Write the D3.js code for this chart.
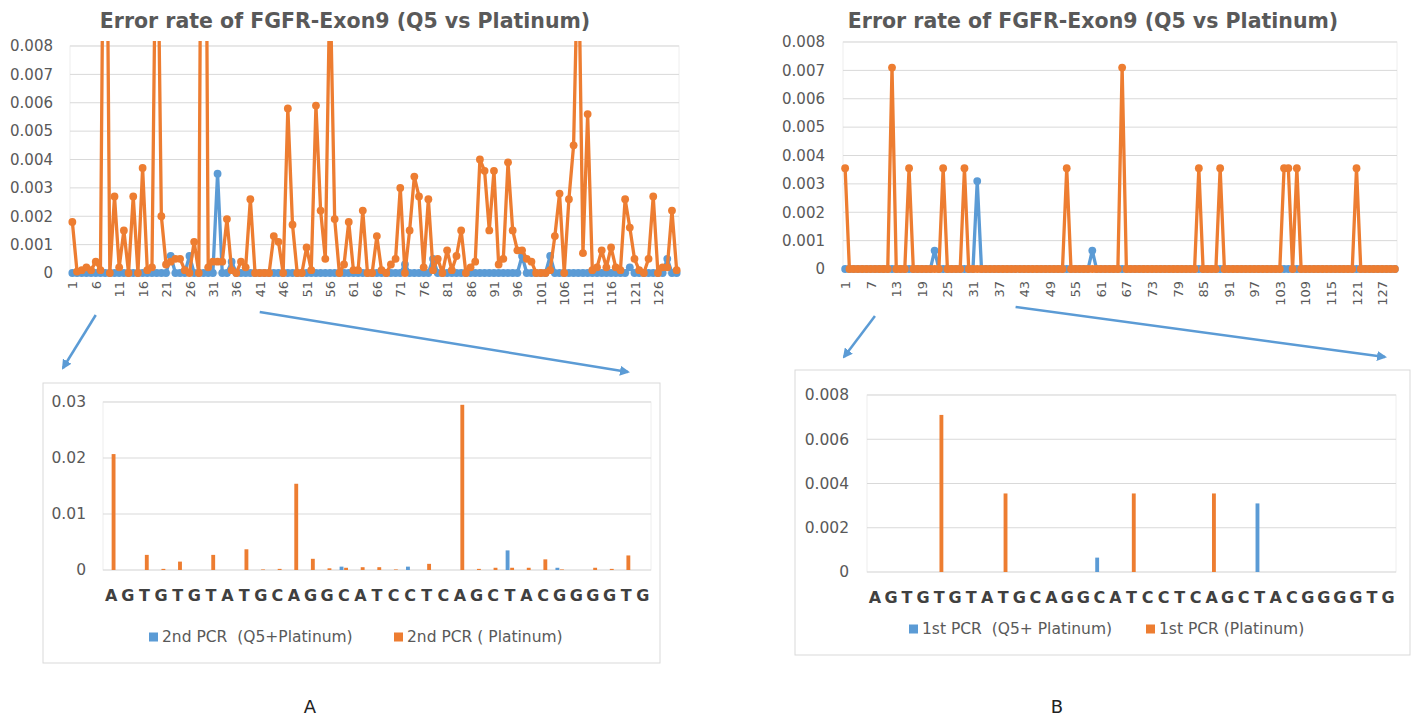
<!DOCTYPE html>
<html>
<head>
<meta charset="utf-8">
<script src="https://cdn.jsdelivr.net/npm/d3@7"></script>
<style>
  body { margin: 0; background: #fff; }
  svg text { font-family: "DejaVu Sans", sans-serif; }
</style>
</head>
<body>
<svg id="fig" width="1416" height="717"></svg>
<script>
// ---- data ----
// error rate per position of FGFR exon 9 (positions 1..130)
var platinumA = [
  0.0018, 0.00005, 0.0001, 0.0002, 0.0001, 0.0004, 0.0001, 0.0207, 0, 0.0027,
  0.0002, 0.0015, 0, 0.0027, 0, 0.0037, 0.0001, 0.0002, 0.0154, 0.0020,
  0.0003, 0.0004, 0.0005, 0.0005, 0.0001, 0, 0.0011, 0, 0.0295, 0.0002,
  0.0004, 0.0004, 0.0004, 0.0019, 0.0001, 0, 0.0004, 0.0002, 0.0026, 0,
  0, 0, 0, 0.0013, 0.0011, 0, 0.0058, 0.0017, 0, 0,
  0.0009, 0.0001, 0.0059, 0.0022, 0.0005, 0.0105, 0.0019, 0, 0.0003, 0.0018,
  0.0001, 0.0001, 0.0022, 0, 0, 0.0013, 0.0001, 0, 0.0003, 0.0005,
  0.0030, 0, 0.0015, 0.0034, 0.0027, 0.0002, 0.0026, 0.0001, 0.0005, 0,
  0.0008, 0.0001, 0.0006, 0.0015, 0, 0.0002, 0.0004, 0.0040, 0.0036, 0.0015,
  0.0036, 0.0003, 0.0005, 0.0039, 0.0015, 0.0008, 0.0008, 0.0005, 0.0004, 0,
  0, 0, 0.0001, 0.0013, 0.0028, 0, 0.0026, 0.0045, 0.0120, 0.0007,
  0.0056, 0.0001, 0.0002, 0.0008, 0.0002, 0.0009, 0.0002, 0.0001, 0.0026, 0.0016,
  0.0005, 0.0001, 0, 0.0005, 0.0027, 0, 0.0002, 0.0002, 0.0022, 0.0001
];
var q5A = [
  0, 0, 0, 0, 0, 0, 0, 0, 0, 0,
  0, 0, 0, 0, 0, 0, 0, 0, 0, 0,
  0, 0.0006, 0, 0, 0, 0.0006, 0, 0, 0, 0,
  0, 0.0035, 0, 0, 0.0004, 0, 0, 0, 0, 0,
  0, 0, 0, 0, 0, 0, 0, 0, 0, 0,
  0, 0, 0, 0, 0, 0, 0, 0, 0, 0,
  0, 0, 0, 0, 0, 0, 0, 0, 0, 0,
  0, 0.0003, 0, 0, 0, 0, 0, 0.0005, 0, 0,
  0, 0, 0, 0, 0, 0, 0, 0, 0, 0,
  0, 0, 0, 0, 0, 0, 0.0006, 0, 0, 0,
  0, 0, 0.0006, 0, 0, 0, 0, 0, 0, 0,
  0, 0, 0, 0, 0, 0, 0, 0, 0, 0.0002,
  0, 0, 0, 0, 0, 0, 0, 0.0005, 0, 0
];
var platinumB = [
  0.00355, 0, 0, 0, 0, 0, 0, 0, 0, 0,
  0, 0.0071, 0, 0, 0, 0.00355, 0, 0, 0, 0,
  0, 0, 0, 0.00355, 0, 0, 0, 0, 0.00355, 0,
  0, 0, 0, 0, 0, 0, 0, 0, 0, 0,
  0, 0, 0, 0, 0, 0, 0, 0, 0, 0,
  0, 0, 0.00355, 0, 0, 0, 0, 0, 0, 0,
  0, 0, 0, 0, 0, 0.0071, 0, 0, 0, 0,
  0, 0, 0, 0, 0, 0, 0, 0, 0, 0,
  0, 0, 0, 0.00355, 0, 0, 0, 0, 0.00355, 0,
  0, 0, 0, 0, 0, 0, 0, 0, 0, 0,
  0, 0, 0, 0.00355, 0.00355, 0, 0.00355, 0, 0, 0,
  0, 0, 0, 0, 0, 0, 0, 0, 0, 0,
  0.00355, 0, 0, 0, 0, 0, 0, 0, 0, 0
];
var q5B = [
  0, 0, 0, 0, 0, 0, 0, 0, 0, 0,
  0, 0, 0, 0, 0, 0, 0, 0, 0, 0,
  0, 0.00065, 0, 0, 0, 0, 0, 0, 0, 0,
  0, 0.0031, 0, 0, 0, 0, 0, 0, 0, 0,
  0, 0, 0, 0, 0, 0, 0, 0, 0, 0,
  0, 0, 0, 0, 0, 0, 0, 0, 0.00065, 0,
  0, 0, 0, 0, 0, 0, 0, 0, 0, 0,
  0, 0, 0, 0, 0, 0, 0, 0, 0, 0,
  0, 0, 0, 0, 0, 0, 0, 0, 0, 0,
  0, 0, 0, 0, 0, 0, 0, 0, 0, 0,
  0, 0, 0, 0, 0, 0, 0, 0, 0, 0,
  0, 0, 0, 0, 0, 0, 0, 0, 0, 0,
  0, 0, 0, 0, 0, 0, 0, 0, 0, 0
];

// the zoomed bar charts show positions 8..40 of the line charts
var sequence = ['A','G','T','G','T','G','T','A','T','G','C','A','G','G','C','A','T',
                'C','C','T','C','A','G','C','T','A','C','G','G','G','G','T','G'];
var zoomStart = 8;

var xTicksA = [1, 6, 11, 16, 21, 26, 31, 36, 41, 46, 51, 56, 61, 66, 71, 76, 81, 86, 91, 96,
               101, 106, 111, 116, 121, 126];
var xTicksB = [1, 7, 13, 19, 25, 31, 37, 43, 49, 55, 61, 67, 73, 79, 85, 91, 97, 103, 109, 115,
               121, 127];
var lineYTicks = [0, 0.001, 0.002, 0.003, 0.004, 0.005, 0.006, 0.007, 0.008];
var barYTicksA = [0, 0.01, 0.02, 0.03];
var barYTicksB = [0, 0.002, 0.004, 0.006, 0.008];

var chartTitle = 'Error rate of FGFR-Exon9 (Q5 vs Platinum)';

// ---- style ----
var orange = '#ED7D31';
var blue = '#5B9BD5';
var gridColor = '#D9D9D9';
var textColor = '#595959';

var svg = d3.select('#fig');
var positions = platinumA.map(function(d, i) { return i + 1; });

var defs = svg.append('defs');
defs.append('marker')
  .attr('id', 'arrowhead')
  .attr('viewBox', '0 0 10 10')
  .attr('refX', 8).attr('refY', 5)
  .attr('markerWidth', 4).attr('markerHeight', 4)
  .attr('orient', 'auto')
  .append('path')
  .attr('d', 'M0,0 L10,5 L0,10 z')
  .attr('fill', blue);

function styleAxis(g, size, weight, color) {
  g.attr('font-family', '"DejaVu Sans", sans-serif')
   .attr('font-size', size)
   .attr('font-weight', weight || 'normal');
  g.select('.domain').remove();
  g.selectAll('text').attr('fill', color || textColor);
}

function drawLineChart(o) {
  var g = svg.append('g');
  var x = d3.scalePoint().domain(positions).range([o.left, o.right]).padding(0.5);
  var y = d3.scaleLinear().domain([0, 0.008]).range([o.bottom, o.top]);

  g.append('text')
    .attr('x', o.titleX).attr('y', 28)
    .attr('text-anchor', 'middle')
    .attr('font-weight', 'bold')
    .attr('font-size', 20.5)
    .attr('fill', textColor)
    .text(chartTitle);

  g.append('rect')
    .attr('x', o.left).attr('y', o.top)
    .attr('width', o.right - o.left).attr('height', o.bottom - o.top)
    .attr('fill', 'none').attr('stroke', '#EEEEEE');

  g.selectAll('.grid').data(lineYTicks).enter().append('line')
    .attr('x1', o.left).attr('x2', o.right)
    .attr('y1', function(d) { return y(d); }).attr('y2', function(d) { return y(d); })
    .attr('stroke', gridColor);

  var ya = g.append('g')
    .attr('transform', 'translate(' + o.left + ',0)')
    .call(d3.axisLeft(y).tickValues(lineYTicks).tickSize(0).tickPadding(o.yPad)
      .tickFormat(function(d) { return d === 0 ? '0' : d3.format('.3f')(d); }));
  styleAxis(ya, 15);

  var xa = g.append('g')
    .attr('transform', 'translate(0,' + o.bottom + ')')
    .call(d3.axisBottom(x).tickValues(o.xTicks).tickSize(0));
  styleAxis(xa, 13);
  xa.selectAll('text')
    .attr('transform', 'rotate(-90)')
    .attr('x', -o.labelGap).attr('y', 0).attr('dy', '0.35em')
    .style('text-anchor', 'end');

  g.append('clipPath').attr('id', o.id + '-clip')
    .append('rect')
    .attr('x', o.left - 10).attr('y', o.top - 5)
    .attr('width', o.right - o.left + 20).attr('height', o.bottom - o.top + 20);

  var plot = g.append('g').attr('clip-path', 'url(#' + o.id + '-clip)');
  var line = d3.line()
    .x(function(d) { return x(d.pos); })
    .y(function(d) { return y(d.v); });

  o.series.forEach(function(s) {
    var pts = s.values.map(function(v, i) { return { pos: positions[i], v: v }; });
    plot.append('path').datum(pts)
      .attr('d', line)
      .attr('fill', 'none')
      .attr('stroke', s.color)
      .attr('stroke-width', 3.3)
      .attr('stroke-linejoin', 'round');
    plot.append('g').selectAll('circle').data(pts).enter().append('circle')
      .attr('cx', function(d) { return x(d.pos); })
      .attr('cy', function(d) { return y(d.v); })
      .attr('r', 3.9)
      .attr('fill', s.color);
  });

  return x;
}

function drawBarChart(o) {
  var g = svg.append('g');
  g.append('rect')
    .attr('x', o.box[0]).attr('y', o.box[1])
    .attr('width', o.box[2]).attr('height', o.box[3])
    .attr('fill', '#fff').attr('stroke', gridColor);

  var idx = sequence.map(function(d, i) { return i; });
  var x = d3.scaleBand().domain(idx).range([o.left, o.right]);
  var inner = d3.scaleBand().domain(['q5', 'plat']).range([-4.2, 4.2]).paddingInner(0.15);
  var y = d3.scaleLinear().domain([0, o.yTicks[o.yTicks.length - 1]]).range([o.bottom, o.top]);

  g.append('rect')
    .attr('x', o.left).attr('y', o.top)
    .attr('width', o.right - o.left).attr('height', o.bottom - o.top)
    .attr('fill', 'none').attr('stroke', '#EEEEEE');

  g.selectAll('.grid').data(o.yTicks).enter().append('line')
    .attr('x1', o.left).attr('x2', o.right)
    .attr('y1', function(d) { return y(d); }).attr('y2', function(d) { return y(d); })
    .attr('stroke', gridColor);

  var ya = g.append('g')
    .attr('transform', 'translate(' + o.left + ',0)')
    .call(d3.axisLeft(y).tickValues(o.yTicks).tickSize(0).tickPadding(o.yPad)
      .tickFormat(function(d) { return d === 0 ? '0' : d3.format(o.fmt)(d); }));
  styleAxis(ya, 15.5);

  var xa = g.append('g')
    .attr('transform', 'translate(0,' + o.bottom + ')')
    .call(d3.axisBottom(x).tickSize(0).tickPadding(20)
      .tickFormat(function(i) { return sequence[i]; }));
  styleAxis(xa, 16, 'bold', '#404040');

  var series = [
    { key: 'q5', color: blue, values: o.q5.slice(zoomStart - 1, zoomStart - 1 + sequence.length) },
    { key: 'plat', color: orange, values: o.plat.slice(zoomStart - 1, zoomStart - 1 + sequence.length) }
  ];
  series.forEach(function(s) {
    g.append('g').selectAll('rect').data(s.values).enter().append('rect')
      .attr('x', function(d, i) { return x(i) + x.bandwidth() / 2 + inner(s.key); })
      .attr('y', function(d) { return y(d); })
      .attr('width', inner.bandwidth())
      .attr('height', function(d) { return y(0) - y(d); })
      .attr('fill', s.color);
  });

  o.legend.forEach(function(l) {
    g.append('rect')
      .attr('x', l.x).attr('y', o.legendY - 4.5)
      .attr('width', 9).attr('height', 9)
      .attr('fill', l.color);
    g.append('text')
      .attr('x', l.x + 13).attr('y', o.legendY)
      .attr('dy', '0.35em')
      .attr('font-size', 15.5)
      .attr('fill', textColor)
      .attr('xml:space', 'preserve')
      .style('white-space', 'pre')
      .text(l.label);
  });
}

function arrow(x1, y1, x2, y2) {
  svg.append('line')
    .attr('x1', x1).attr('y1', y1).attr('x2', x2).attr('y2', y2)
    .attr('stroke', blue).attr('stroke-width', 2.5)
    .attr('marker-end', 'url(#arrowhead)');
}

// ---- panel A ----
var xA = drawLineChart({
  id: 'lineA', left: 70, right: 679, top: 46, bottom: 273,
  yPad: 17, labelGap: 8, xTicks: xTicksA, titleX: 345,
  series: [{ color: blue, values: q5A }, { color: orange, values: platinumA }]
});
drawBarChart({
  box: [43, 383, 617, 280], left: 103, right: 651, top: 402, bottom: 570,
  yTicks: barYTicksA, fmt: '.2f', yPad: 17,
  q5: q5A, plat: platinumA, legendY: 637,
  legend: [
    { x: 149, color: blue, label: '2nd PCR  (Q5+Platinum)' },
    { x: 394, color: orange, label: '2nd PCR ( Platinum)' }
  ]
});
arrow(xA(6), 315, 63, 368);
arrow(xA(41), 312, 628, 372);

// ---- panel B ----
var xB = drawLineChart({
  id: 'lineB', left: 843, right: 1397, top: 42, bottom: 269,
  yPad: 18, labelGap: 12, xTicks: xTicksB, titleX: 1093,
  series: [{ color: blue, values: q5B }, { color: orange, values: platinumB }]
});
drawBarChart({
  box: [795, 370, 615, 285], left: 867, right: 1396, top: 395, bottom: 572,
  yTicks: barYTicksB, fmt: '.3f', yPad: 18,
  q5: q5B, plat: platinumB, legendY: 629,
  legend: [
    { x: 909, color: blue, label: '1st PCR  (Q5+ Platinum)' },
    { x: 1146, color: orange, label: '1st PCR (Platinum)' }
  ]
});
arrow(xB(8), 316, 844, 357);
arrow(xB(41), 307, 1385, 357);

// panel letters
svg.append('text').attr('x', 310).attr('y', 713).attr('text-anchor', 'middle')
  .attr('font-size', 18).attr('fill', '#222').text('A');
svg.append('text').attr('x', 1057).attr('y', 713).attr('text-anchor', 'middle')
  .attr('font-size', 18).attr('fill', '#222').text('B');
</script>
</body>
</html>
